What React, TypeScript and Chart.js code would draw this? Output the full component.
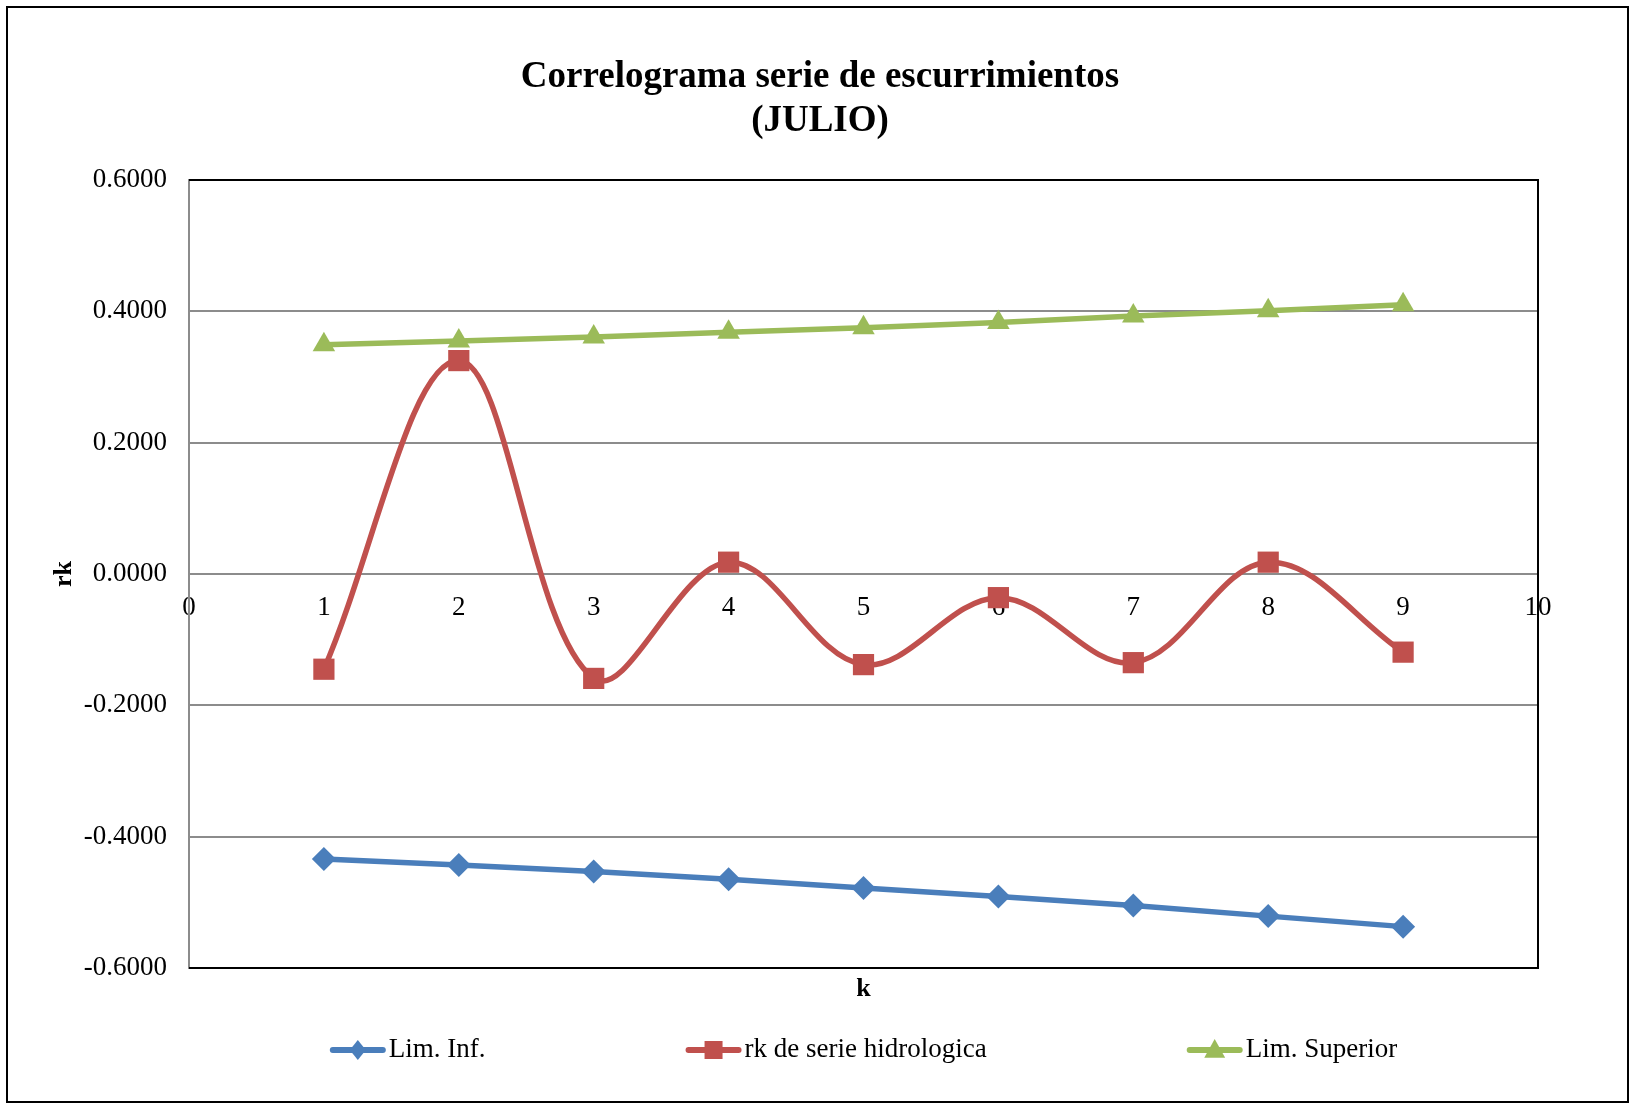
import React, { useEffect, useRef } from "react";
import { Chart, registerables } from "chart.js";

Chart.register(...registerables);

const lags = [1, 2, 3, 4, 5, 6, 7, 8, 9];
const limInf = [-0.434, -0.443, -0.453, -0.465, -0.478, -0.491, -0.505, -0.521, -0.537];
const rkSerie = [-0.145, 0.325, -0.159, 0.018, -0.138, -0.036, -0.135, 0.018, -0.119];
const limSup = [0.349, 0.355, 0.361, 0.368, 0.375, 0.383, 0.393, 0.401, 0.410];

const seriesLabels = ["Lim. Inf.", "rk de serie hidrologica", "Lim. Superior"];
const titleLines = ["Correlograma serie de escurrimientos", "(JULIO)"];
const xTitle = "k";
const yTitle = "rk";

const BLUE = "#4A7EBB";
const RED = "#C0504D";
const GREEN = "#9BBB59";
const GRID = "#8C8C8C";
const FONT = '"Liberation Serif", "Times New Roman", serif';

const W = 1631;
const H = 1104;

function drawMarker(ctx: CanvasRenderingContext2D, shape: string, x: number, y: number, color: string) {
  ctx.save();
  ctx.fillStyle = color;
  ctx.beginPath();
  if (shape === "rectRot") {
    ctx.moveTo(x, y - 10);
    ctx.lineTo(x + 8, y);
    ctx.lineTo(x, y + 10);
    ctx.lineTo(x - 8, y);
  } else if (shape === "rect") {
    const s = 9;
    ctx.rect(x - s, y - s, 2 * s, 2 * s);
  } else {
    const r = 11;
    ctx.moveTo(x, y - r);
    ctx.lineTo(x + r * 0.95, y + r * 0.7);
    ctx.lineTo(x - r * 0.95, y + r * 0.7);
  }
  ctx.closePath();
  ctx.fill();
  ctx.restore();
}

const decorPlugin = {
  id: "decor",
  afterDraw(chart: any) {
    const ctx: CanvasRenderingContext2D = chart.ctx;
    const area = chart.chartArea;
    ctx.save();
    // outer border
    ctx.strokeStyle = "#000";
    ctx.lineWidth = 2;
    ctx.strokeRect(7, 7, 1621, 1095);

    // plot frame: top, right, bottom black
    ctx.beginPath();
    ctx.lineWidth = 2;
    ctx.moveTo(area.left, area.top);
    ctx.lineTo(area.right, area.top);
    ctx.lineTo(area.right, area.bottom);
    ctx.lineTo(area.left, area.bottom);
    ctx.stroke();

    // title
    ctx.fillStyle = "#000";
    ctx.textAlign = "center";
    ctx.textBaseline = "alphabetic";
    ctx.font = `bold 37px ${FONT}`;
    const tx = 820;
    ctx.fillText(titleLines[0], tx, 87);
    ctx.fillText(titleLines[1], tx, 131);

    // axis titles
    const cx = (area.left + area.right) / 2;
    ctx.font = `bold 26px ${FONT}`;
    ctx.textBaseline = "middle";
    ctx.fillText(xTitle, cx, 989);
    ctx.save();
    ctx.translate(64, (area.top + area.bottom) / 2);
    ctx.rotate(-Math.PI / 2);
    ctx.fillText(yTitle, 0, 0);
    ctx.restore();

    // legend
    ctx.font = `27px ${FONT}`;
    const lineLen = 56;
    const gapAfterLine = 3;
    const itemGap = 200;
    const ds = chart.data.datasets;
    const widths = ds.map((d: any) => lineLen + gapAfterLine + ctx.measureText(d.label).width);
    const total = widths.reduce((a: number, b: number) => a + b, 0) + itemGap * (ds.length - 1);
    let x = cx - total / 2;
    const ly = 1050;
    ds.forEach((d: any, i: number) => {
      ctx.strokeStyle = d.borderColor;
      ctx.lineWidth = 6;
      ctx.lineCap = "round";
      ctx.beginPath();
      ctx.moveTo(x + 3, ly);
      ctx.lineTo(x + lineLen - 3, ly);
      ctx.stroke();
      drawMarker(ctx, d.pointStyle, x + lineLen / 2, ly, d.borderColor);
      ctx.fillStyle = "#000";
      ctx.textAlign = "left";
      ctx.textBaseline = "middle";
      ctx.fillText(d.label, x + lineLen + gapAfterLine, ly);
      x += widths[i] + itemGap;
    });
    ctx.restore();
  },
};

export default function App() {
  const ref = useRef<HTMLCanvasElement | null>(null);

  useEffect(() => {
    if (!ref.current) return;
    const mk = (vals: number[]) => lags.map((k, i) => ({ x: k, y: vals[i] }));
    const chart = new Chart(ref.current, {
      type: "line",
      data: {
        datasets: [
          {
            label: seriesLabels[0],
            data: mk(limInf),
            borderColor: BLUE,
            backgroundColor: BLUE,
            borderWidth: 5.5,
            pointStyle: "rectRot",
            pointRadius: 12,
            pointBorderWidth: 0,
            tension: 0,
          },
          {
            label: seriesLabels[1],
            data: mk(rkSerie),
            borderColor: RED,
            backgroundColor: RED,
            borderWidth: 5.5,
            pointStyle: "rect",
            pointRadius: 15,
            pointBorderWidth: 0,
            tension: 0.36,
          },
          {
            label: seriesLabels[2],
            data: mk(limSup),
            borderColor: GREEN,
            backgroundColor: GREEN,
            borderWidth: 5.5,
            pointStyle: "triangle",
            pointRadius: 13,
            pointBorderWidth: 0,
            tension: 0,
          },
        ],
      },
      options: {
        responsive: false,
        animation: false,
        events: [],
        layout: { padding: { left: 0, right: 93, top: 180, bottom: 136 } },
        plugins: {
          legend: { display: false },
          title: { display: false },
          tooltip: { enabled: false },
        },
        scales: {
          x: {
            type: "linear",
            position: { y: 0 } as any,
            min: 0,
            max: 10,
            grid: { display: false, drawTicks: false },
            border: { display: false },
            ticks: {
              stepSize: 1,
              padding: 18,
              color: "#000",
              font: { family: FONT, size: 27 },
              maxRotation: 0,
              callback: (v: any) => String(v),
            },
          },
          y: {
            type: "linear",
            min: -0.6,
            max: 0.6,
            afterFit: (scale: any) => {
              scale.width = 189;
            },
            grid: { color: GRID, lineWidth: 2, drawTicks: false },
            border: { display: true, color: GRID, width: 2 },
            ticks: {
              stepSize: 0.2,
              padding: 22,
              color: "#000",
              font: { family: FONT, size: 27 },
              callback: (v: any) => Number(v).toFixed(4),
            },
          },
        },
      },
      plugins: [decorPlugin],
    });
    return () => chart.destroy();
  }, []);

  return (
    <div style={{ position: "absolute", left: 0, top: 0, width: W, height: H, background: "#fff" }}>
      <canvas ref={ref} width={W} height={H} style={{ width: W, height: H, display: "block" }} />
    </div>
  );
}
